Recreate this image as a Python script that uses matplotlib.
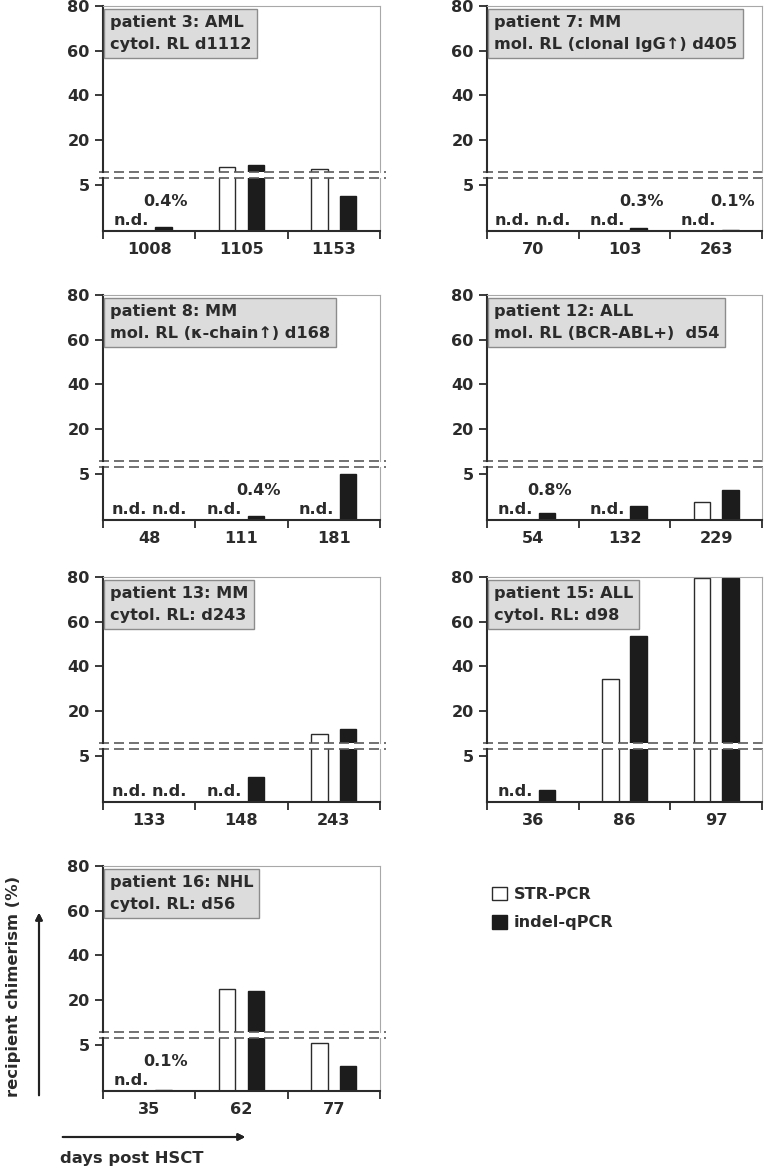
import numpy as np
import matplotlib.pyplot as plt
from matplotlib.lines import Line2D
from matplotlib.patches import Patch

plt.rcParams['font.family'] = ['DejaVu Sans']
plt.rcParams['font.weight'] = 'bold'
plt.rcParams['text.color'] = '#2b2b2b'

nan = np.nan
titles = ["patient 3: AML\ncytol. RL d1112",
          "patient 7: MM\nmol. RL (clonal IgG\u2191) d405",
          "patient 8: MM\nmol. RL (\u03ba-chain\u2191) d168",
          "patient 12: ALL\nmol. RL (BCR-ABL+)  d54",
          "patient 13: MM\ncytol. RL: d243",
          "patient 15: ALL\ncytol. RL: d98",
          "patient 16: NHL\ncytol. RL: d56"]
days = [["1008", "1105", "1153"],
        ["70", "103", "263"],
        ["48", "111", "181"],
        ["54", "132", "229"],
        ["133", "148", "243"],
        ["36", "86", "97"],
        ["35", "62", "77"]]
# nan = n.d. (not detected)
str_pcr = [[nan, 8.0, 6.9],
           [nan, nan, nan],
           [nan, nan, nan],
           [nan, nan, 1.95],
           [nan, nan, 9.9],
           [nan, 34.5, 79.5],
           [nan, 25.0, 5.2]]
indel_qpcr = [[0.4, 8.7, 3.8],
              [nan, 0.3, 0.1],
              [nan, 0.4, 5.0],
              [0.8, 1.5, 3.2],
              [nan, 2.7, 11.8],
              [1.3, 53.5, 79.5],
              [0.1, 24.0, 2.7]]

W, H = 772, 1172
fig = plt.figure(figsize=(W / 100, H / 100), dpi=100)

dark = '#2b2b2b'
light = '#a8a8a8'
fs = 11.6
col_left = [103, 487]
col_width = [277, 275]
row_top = [6, 295, 577, 866]
up_h, gap, low_h = 166, 6, 53
lo_max, up_min = 5.7, 5.7
bw, off = 0.18, 0.155


def frac(x, y, w, h):
    return [x / W, 1 - (y + h) / H, w / W, h / H]


for i in range(len(titles)):
    r, c = i // 2, i % 2
    x0 = col_left[c]
    ax_up = fig.add_axes(frac(x0, row_top[r], col_width[c], up_h))
    ax_lo = fig.add_axes(frac(x0, row_top[r] + up_h + gap, col_width[c], low_h))
    idx = np.arange(3)
    s = np.array(str_pcr[i])
    q = np.array(indel_qpcr[i])
    for ax in (ax_up, ax_lo):
        ax.bar(idx - off, np.nan_to_num(s), bw, color='white', edgecolor=dark, linewidth=1)
        ax.bar(idx + off, np.nan_to_num(q), bw, color='#1c1c1c', edgecolor='#1c1c1c', linewidth=1)
        ax.set_xlim(-0.5, 2.5)
        ax.spines['left'].set_color(dark)
        ax.spines['left'].set_linewidth(1.5)
        ax.spines['right'].set_color(light)
        ax.tick_params(axis='y', direction='out', length=5.5, width=1.3, color=dark,
                       labelsize=fs, pad=4, labelcolor=dark)
    ax_up.set_ylim(up_min, 80)
    ax_up.set_yticks([20, 40, 60, 80])
    ax_up.spines['top'].set_color(light)
    ax_up.spines['bottom'].set_visible(False)
    ax_up.set_xticks([])
    ax_lo.set_ylim(0, lo_max)
    ax_lo.set_yticks([5])
    ax_lo.spines['top'].set_visible(False)
    ax_lo.spines['bottom'].set_color(dark)
    ax_lo.spines['bottom'].set_linewidth(1.5)
    ax_lo.set_xticks(idx)
    ax_lo.set_xticklabels(days[i])
    ax_lo.set_xticks([-0.5, 0.5, 1.5, 2.5], minor=True)
    ax_lo.tick_params(axis='x', which='major', length=0, pad=8, labelsize=fs, labelcolor=dark)
    ax_lo.tick_params(axis='x', which='minor', length=5.5, width=1.3, color=dark)

    # broken-axis dashed lines
    for ax, yy in ((ax_up, 0), (ax_lo, 1)):
        ax.add_line(Line2D([-0.015, 1.02], [yy, yy], transform=ax.transAxes, clip_on=False,
                           color='#5a5a5a', lw=1.2, linestyle=(0, (6, 3))))

    # n.d. and small-percentage labels
    for k in range(3):
        if np.isnan(s[k]):
            xs = k - 0.22 if np.isnan(q[k]) else k - 0.19
            ax_lo.text(xs, 1.1, "n.d.", ha='center', va='center', fontsize=fs)
        if np.isnan(q[k]):
            ax_lo.text(k + 0.22, 1.1, "n.d.", ha='center', va='center', fontsize=fs)
        elif q[k] < 1:
            ax_lo.text(k + 0.18, 3.2, f"{q[k]}%", ha='center', va='center', fontsize=fs)

    ax_up.text(0.025, 0.945, titles[i], transform=ax_up.transAxes, ha='left', va='top',
               fontsize=fs, linespacing=1.6,
               bbox=dict(boxstyle='square,pad=0.36', fc='#dcdcdc', ec='#8c8c8c', lw=1))

# axis captions with arrows
fig.text(14 / W, 1 - 986 / H, "recipient chimerism (%)", rotation=90, ha='center', va='center',
         fontsize=11.8)
fig.text(60 / W, 1 - 1158 / H, "days post HSCT", ha='left', va='center', fontsize=11.8)
fig.add_artist(plt.annotate('', xy=(39 / W, 1 - 910 / H), xytext=(39 / W, 1 - 1098 / H),
                            xycoords='figure fraction',
                            arrowprops=dict(arrowstyle='-|>', color='#222222', lw=1.5,
                                            mutation_scale=10)))
fig.add_artist(plt.annotate('', xy=(248 / W, 1 - 1137 / H), xytext=(60 / W, 1 - 1137 / H),
                            xycoords='figure fraction',
                            arrowprops=dict(arrowstyle='-|>', color='#222222', lw=1.5,
                                            mutation_scale=10)))

handles = [Patch(fc='white', ec=dark, lw=1), Patch(fc='#1c1c1c', ec='#1c1c1c')]
fig.legend(handles, ['STR-PCR', 'indel-qPCR'], loc='upper left',
           bbox_to_anchor=(492 / W, 1 - 887 / H), frameon=False, fontsize=fs,
           handlelength=0.9, handleheight=0.9, handletextpad=0.45, labelspacing=0.8,
           borderpad=0, borderaxespad=0)

fig.savefig('out.png', dpi=100)
